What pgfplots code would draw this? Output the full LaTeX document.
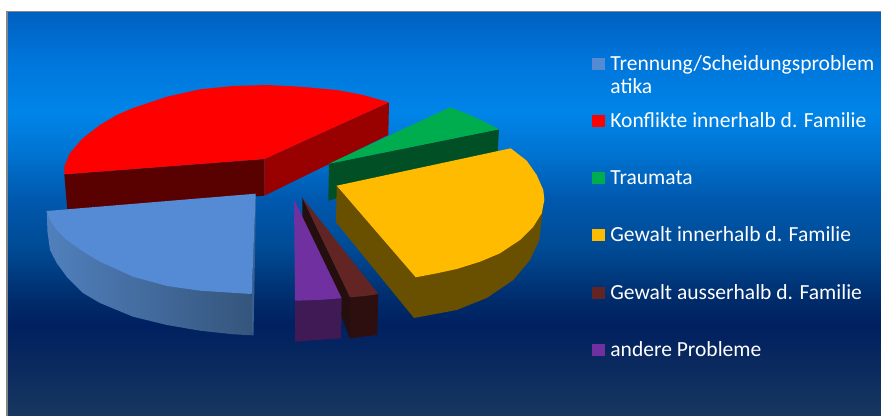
\documentclass[border=0pt]{standalone}
\usepackage{pgfplots}
\pgfplotsset{compat=1.18}
\usepackage{fontspec}
\setmainfont{Carlito}
\definecolor{cBlue}{HTML}{558BD5}
\definecolor{cRed}{HTML}{FF0000}
\definecolor{cGreen}{HTML}{00AD4E}
\definecolor{cYellow}{HTML}{FFBB00}
\definecolor{cBrown}{HTML}{632523}
\definecolor{cPurple}{HTML}{7030A0}
\pgfdeclareverticalshading{bgshade}{100bp}{
 rgb(0bp)=(0.09,0.216,0.37);
 rgb(25bp)=(0.09,0.216,0.37);
 rgb(36.3bp)=(0,0.125,0.376);
 rgb(39.4bp)=(0,0.17,0.42);
 rgb(45.6bp)=(0,0.29,0.58);
 rgb(51.8bp)=(0,0.345,0.68);
 rgb(58bp)=(0,0.46,0.83);
 rgb(62.7bp)=(0,0.52,0.91);
 rgb(69.2bp)=(0,0.46,0.855);
 rgb(75bp)=(0,0.38,0.76);
 rgb(100bp)=(0,0.38,0.76)}
\begin{document}
\begin{tikzpicture}
\begin{axis}[
  scale only axis, width=881bp, height=416bp,
  xmin=0, xmax=881, ymin=0, ymax=416, y dir=reverse,
  hide axis, clip=false,
  legend cell align=left,
  legend style={at={(axis cs:592,55.3)}, anchor=north west, draw=none, fill=none,
    inner sep=0pt, outer sep=0pt, row sep=41.1bp, text=white,
    nodes={inner sep=0pt, outer sep=0pt},
    font=\fontsize{21.6}{23.3}\selectfont},
  legend image code/.code={\fill[#1] (0bp,-5.6bp) rectangle (12bp,5.4bp);},
]
\fill[white] (axis cs:0,0) rectangle (axis cs:881,416);
\fill[gray!95] (axis cs:6,11) rectangle (axis cs:881,416);
\shade[shading=bgshade] (axis cs:8,13) rectangle (axis cs:881,416);

\addlegendimage{cBlue}\addlegendentry{\hspace{6bp}\parbox[t]{268bp}{Trennung/Scheidungsproblem\\atika}}
\addlegendimage{cRed}\addlegendentry{\hspace{6bp}Konflikte innerhalb d. Familie}
\addlegendimage{cGreen}\addlegendentry{\hspace{6bp}Traumata}
\addlegendimage{cYellow}\addlegendentry{\hspace{6bp}Gewalt innerhalb d. Familie}
\addlegendimage{cBrown}\addlegendentry{\hspace{6bp}Gewalt ausserhalb d. Familie}
\addlegendimage{cPurple}\addlegendentry{\hspace{6bp}andere Probleme}

% red
\addplot[forget plot, draw=none, fill=red!35!black] coordinates {(64.3,174.3)(264.3,159)(264.3,195.7)(67.5,212)} --cycle;
\addplot[forget plot, draw=none, fill=red!60!black] coordinates {(264.3,159)(389,102.3)(388.3,135)(264.3,195.7)} --cycle;
\addplot[forget plot, draw=none, fill=cRed] coordinates {(64.3,174.3)(64.3,166.7)(70,153)(83,138)(100,125)(116.7,115)(133,108)(167,96.7)(200,89.3)(233,86)(267,85)(300,86.7)(337,90)(363,95)(389,102.3)(264.3,159)} --cycle;
% green
\addplot[forget plot, draw=none, fill={rgb,255:red,0;green,79;blue,37}] coordinates {(329,163.7)(499,129.3)(497.7,151)(328.3,200.7)} --cycle;
\addplot[forget plot, draw=none, fill=cGreen] coordinates {(329,163.7)(450,107.3)(470,115)(485,122)(499,129.3)} --cycle;
% yellow
\addplot[forget plot, draw=none, fill={rgb,255:red,105;green,79;blue,0}] coordinates {(336.7,185.7)(336,222.3)(414,318)(456.7,310)(486.7,298)(513.3,280)(530,260)(539.3,240)(543.3,205)(415.7,277.3)} --cycle;
\addplot[forget plot, draw=none, fill=cYellow] coordinates {(336.7,185.7)(510.7,148.3)(526.7,160.7)(536.7,175)(543.3,190)(544.3,200)(541.7,213.3)(533.3,226.7)(520,240)(500,253.3)(480,261.7)(456.7,269)(436.7,273.3)(415.7,277.3)} --cycle;
% brown
\addplot[forget plot, draw=none, fill={rgb,255:red,36;green,14;blue,14}] coordinates {(302.3,197.7)(350,297.3)(350,338.3)(302.3,216.7)} --cycle;
\addplot[forget plot, draw=none, fill={rgb,255:red,46;green,15;blue,15}] coordinates {(350,297.3)(378.3,294)(377.3,335)(350,338.3)} --cycle;
\addplot[forget plot, draw=none, fill=cBrown] coordinates {(302.3,197.7)(378.3,294)(365,296)(350,297.3)} --cycle;
% purple
\addplot[forget plot, draw=none, fill={rgb,255:red,63;green,26;blue,85}] coordinates {(295,300.7)(341.7,298.3)(341,338.3)(295,341.7)} --cycle;
\addplot[forget plot, draw=none, fill=cPurple] coordinates {(294,199.3)(341.7,298.3)(318,300)(295,300.7)} --cycle;
% blue
\addplot[forget plot, draw=none, left color={rgb,255:red,80;green,128;blue,189}, right color={rgb,255:red,53;green,85;blue,124}] coordinates {(46.7,211)(47.5,232)(50,250)(56.7,263)(66.7,276.7)(83,293)(100,303)(133,316.7)(167,325)(200,330.7)(233,334.3)(252.3,335.3)(251.7,294)} --cycle;
\addplot[forget plot, draw=none, fill={rgb,255:red,58;green,96;blue,144}] coordinates {(255.7,193.7)(256,200)(253.5,335)(252.3,335.3)(251.7,294)} --cycle;
\addplot[forget plot, draw=none, fill=cBlue] coordinates {(46.7,211)(255.7,193.7)(251.7,294)(200,290.7)(167,286)(133,276.7)(100,261.7)(83.3,251.7)(66.7,240)(56.7,230)(50,220)} --cycle;
\end{axis}
\end{tikzpicture}
\end{document}
